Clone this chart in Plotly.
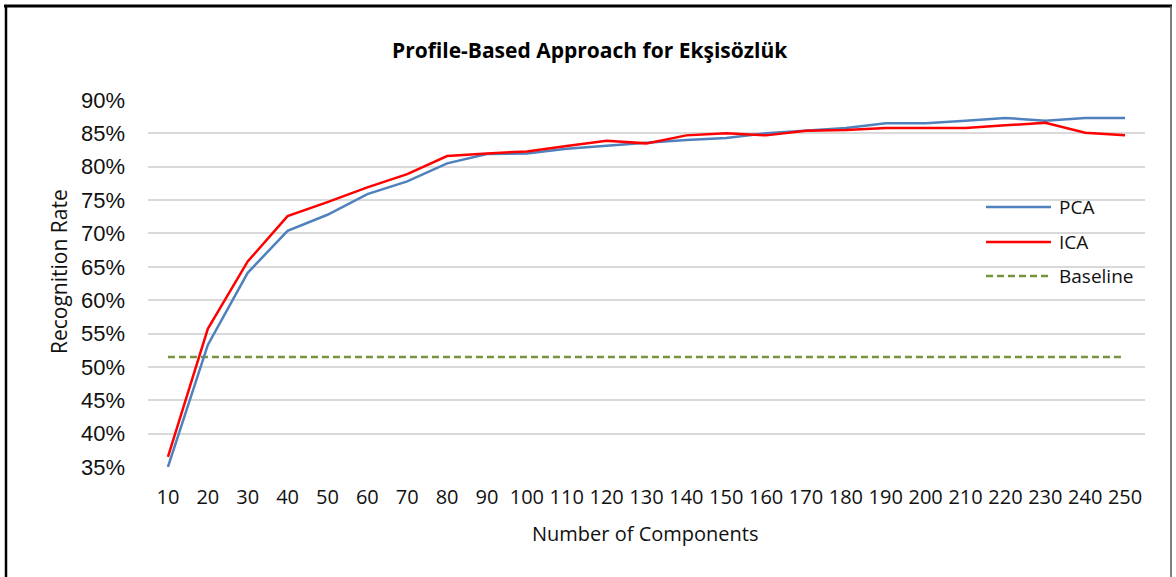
import plotly.graph_objects as go

# ---- data ----
components = [str(v) for v in range(10, 260, 10)]
pca = [35.0, 53.3, 64.1, 70.4, 72.8, 75.9, 77.8, 80.5, 81.9, 82.0, 82.7, 83.2, 83.6,
       84.0, 84.3, 85.0, 85.4, 85.8, 86.5, 86.5, 86.9, 87.3, 86.9, 87.3, 87.3]
ica = [36.5, 55.7, 65.8, 72.6, 74.7, 76.9, 78.9, 81.6, 82.0, 82.3, 83.1, 83.9, 83.5,
       84.7, 85.0, 84.7, 85.4, 85.5, 85.8, 85.8, 85.8, 86.2, 86.6, 85.1, 84.7]
baseline_value = 51.5
baseline = [baseline_value] * len(components)
y_ticks = list(range(35, 95, 5))
y_ticktext = [f"{v}%" for v in y_ticks]

TITLE = "Profile-Based Approach for Ekşisözlük"
XTITLE = "Number of Components"
YTITLE = "Recognition Rate"

# ---- layout geometry ----
W, H = 1176, 577
ML, MR, MT, MB = 148, 31, 100, 110
PW = W - ML - MR
PH = H - MT - MB


def px(x):
    return (x - ML) / PW


def py(y):
    return (H - MB - y) / PH


BLUE = "#4F81BD"
RED = "#FF0000"
GREEN = "#77933C"
DASH = "7px,4px"

fig = go.Figure()
fig.add_trace(go.Scatter(x=components, y=baseline, mode="lines", name="Baseline",
                         line=dict(color=GREEN, width=2.5, dash=DASH), showlegend=False))
fig.add_trace(go.Scatter(x=components, y=pca, mode="lines", name="PCA",
                         line=dict(color=BLUE, width=2.5), showlegend=False))
fig.add_trace(go.Scatter(x=components, y=ica, mode="lines", name="ICA",
                         line=dict(color=RED, width=2.5), showlegend=False))

fig.update_layout(
    width=W, height=H,
    margin=dict(l=ML, r=MR, t=MT, b=MB),
    paper_bgcolor="white", plot_bgcolor="white",
    showlegend=False,
    xaxis=dict(type="category", range=[-0.5, len(components) - 0.5],
               showgrid=False, zeroline=False, showline=False,
               ticks="", ticklabelstandoff=16,
               tickfont=dict(family="Open Sans", size=20, color="#111111")),
    yaxis=dict(range=[35, 90], tickvals=y_ticks, ticktext=y_ticktext,
               showgrid=True, gridcolor="#D9D9D9", gridwidth=2,
               zeroline=False, showline=False, ticks="", ticklabelstandoff=22,
               tickfont=dict(family="Liberation Sans", size=22, color="#111111")),
)

annotations = [
    dict(text=f"<b>{TITLE}</b>", x=px(590), y=py(50), xref="paper", yref="paper",
         showarrow=False, xanchor="center", yanchor="middle",
         font=dict(family="Open Sans", size=21, color="#000000")),
    dict(text=XTITLE, x=px(645), y=py(533), xref="paper", yref="paper",
         showarrow=False, xanchor="center", yanchor="middle",
         font=dict(family="Open Sans", size=20, color="#111111")),
    dict(text=YTITLE, x=px(59), y=py(272), xref="paper", yref="paper",
         showarrow=False, xanchor="center", yanchor="middle", textangle=-90,
         font=dict(family="Open Sans", size=21, color="#111111")),
]

shapes = []
# custom legend
legend_items = [("PCA", BLUE, "solid", 207), ("ICA", RED, "solid", 242), ("Baseline", GREEN, DASH, 276)]
for name, color, dash, yy in legend_items:
    shapes.append(dict(type="line", xref="paper", yref="paper",
                       x0=px(986), x1=px(1051), y0=py(yy), y1=py(yy),
                       line=dict(color=color, width=2.5, dash=dash)))
    annotations.append(dict(text=name, x=px(1057), y=py(yy), xref="paper", yref="paper",
                            showarrow=False, xanchor="left", yanchor="middle",
                            font=dict(family="Open Sans", size=19, color="#111111")))

# outer frame
shapes.append(dict(type="line", xref="paper", yref="paper", x0=px(4), x1=px(1172),
                   y0=py(6), y1=py(6), line=dict(color="black", width=3)))
shapes.append(dict(type="line", xref="paper", yref="paper", x0=px(6), x1=px(6),
                   y0=py(5), y1=py(590), line=dict(color="black", width=2.5)))
shapes.append(dict(type="line", xref="paper", yref="paper", x0=px(1171), x1=px(1171),
                   y0=py(6), y1=py(590), line=dict(color="#555555", width=1.5)))

fig.update_layout(annotations=annotations, shapes=shapes)
fig.write_html("out.html", config={"displayModeBar": False},
               post_script="document.body.style.margin='0';document.body.style.overflow='hidden';")
